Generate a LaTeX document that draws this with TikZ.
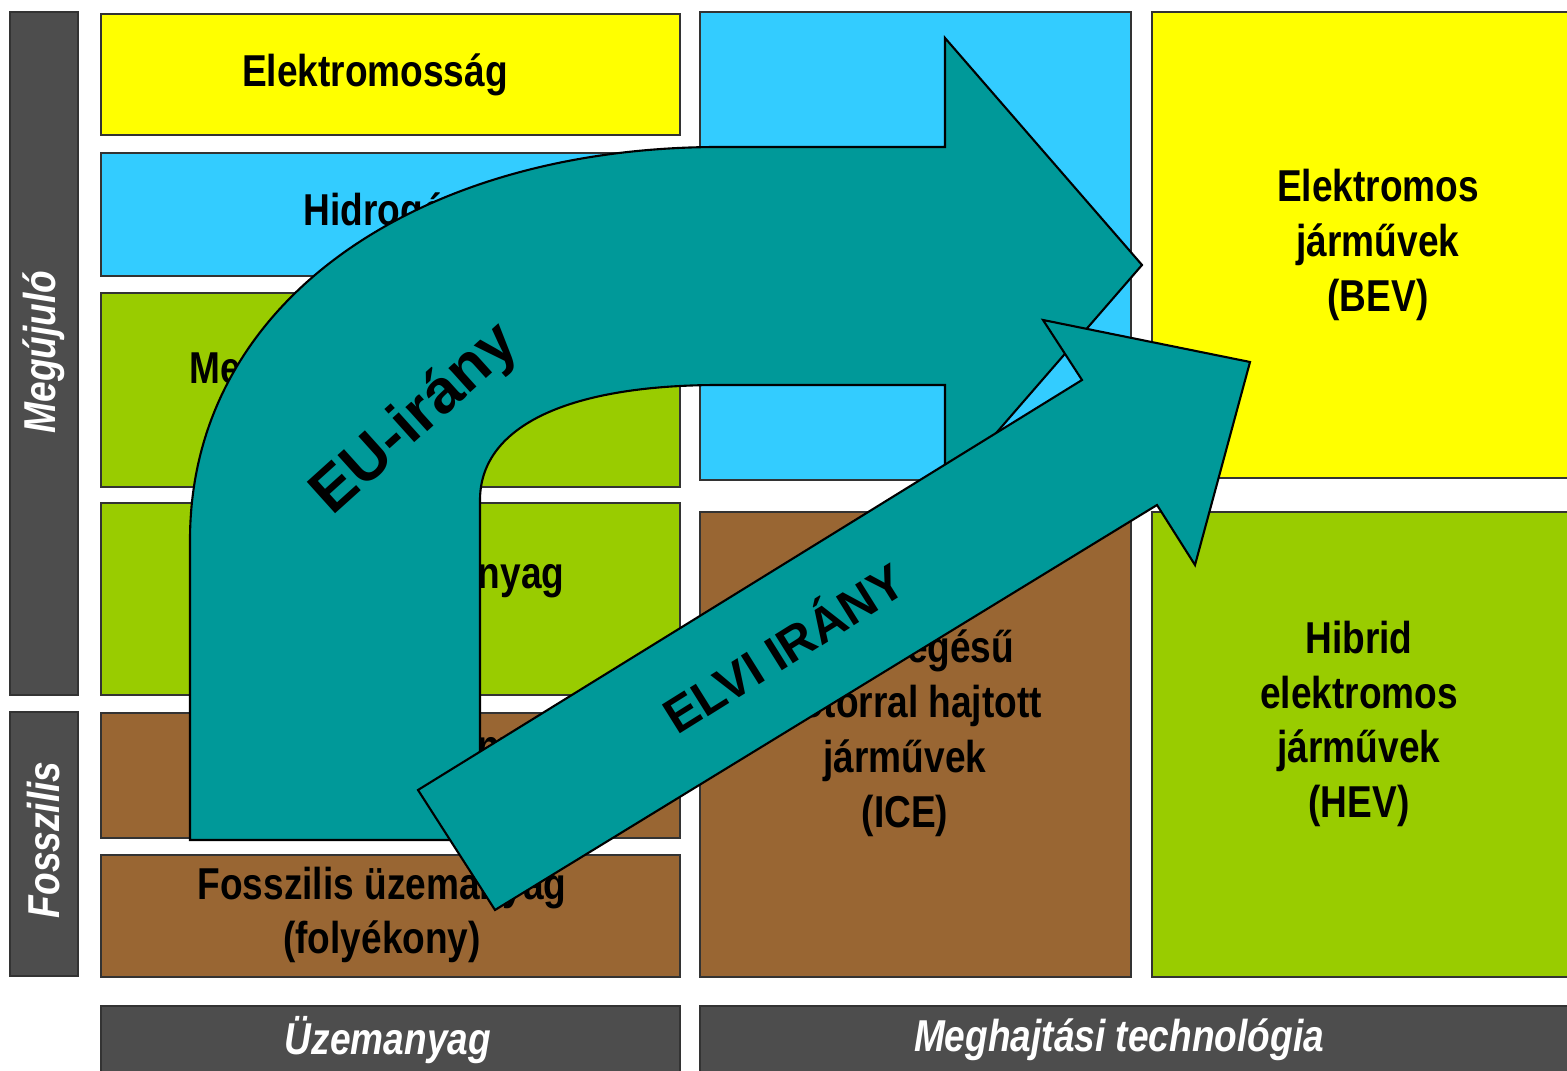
\documentclass[tikz,border=0pt]{standalone}
\usepackage{fontspec}
\usepackage{xcolor}
\usepackage{tikz}
\newfontfamily\narrowsans[FakeStretch=0.83]{Liberation Sans}
\newfontfamily\widesans{Liberation Sans}
\definecolor{fuelyellow}{HTML}{FFFF00}
\definecolor{fuelblue}{HTML}{33CCFF}
\definecolor{fuelgreen}{HTML}{99CC00}
\definecolor{fuelbrown}{HTML}{996633}
\definecolor{bargray}{HTML}{4D4D4D}
\definecolor{arrowteal}{HTML}{009999}

\begin{document}
\begin{tikzpicture}
  [x=0.01cm,y=-0.01cm,every node/.style={align=center,inner sep=0pt,font=\narrowsans\bfseries\fontsize{12.7}{15.6}\selectfont},
   tile/.style={draw=black!80,line width=0.6pt},
   bar/.style={fill=bargray,draw=black!80,line width=0.6pt},
   axis/.style={text=white,font=\narrowsans\bfseries\itshape\fontsize{12.7}{15.6}\selectfont},
   bigarrow/.style={fill=arrowteal,draw=black,line width=0.6pt},
   arrowtext/.style={font=\widesans\bfseries\fontsize{#1}{#1}\selectfont}] % one pixel of the slide = one unit, y grows downwards

    \useasboundingbox (0,0) rectangle (1567,1071);
    \clip (0,0) rectangle (1567,1071);

    % grey bars
    \draw[bar] (10,12) rectangle (78,695);
    \draw[bar] (10,712) rectangle (78,976);
    \draw[bar] (101,1006) rectangle (680,1090);
    \draw[bar] (700,1006) rectangle (1580,1090);

    \node[axis,rotate=90] (s1) at (44,352)   {Megújuló};
    \node[axis,rotate=90] (s2) at (44,840)   {Fosszilis};
    \node[axis] (b1) at (388,1040)  {Üzemanyag};
    \node[axis] (b2) at (1119,1040) {Meghajtási technológia};

    % fuels
    \draw[tile,fill=fuelyellow] (101,14) rectangle (680,135);
    \draw[tile,fill=fuelblue]   (101,153) rectangle (680,276);
    \draw[tile,fill=fuelgreen]  (101,293) rectangle (680,487);
    \draw[tile,fill=fuelgreen]  (101,503) rectangle (680,695);
    \draw[tile,fill=fuelbrown]  (101,713) rectangle (680,838);
    \draw[tile,fill=fuelbrown]  (101,855) rectangle (680,977);

    % technologies
    \draw[tile,fill=fuelblue]   (700,12) rectangle (1131,480);
    \draw[tile,fill=fuelbrown]  (700,512) rectangle (1131,977);
    \draw[tile,fill=fuelyellow] (1152,12) rectangle (1580,478);
    \draw[tile,fill=fuelgreen]  (1152,512) rectangle (1580,977);

    \node (t1) at (375,75)    {Elektromosság};
    \node (t2) at (385,214)   {Hidrogén};
    \node (t3) at (377,372)   {Megújuló üzemanyag};
    \node (t4) at (377,577)   {Megújuló üzemanyag};
    \node (t5) at (380,750)   {Fosszilis üzemanyag};
    \node (t6) at (382,915)   {Fosszilis üzemanyag\\(folyékony)};
    \node (t7) at (915,192)   {Üzemanyagcellás};
    \node (t8) at (905,733)   {Belső égésű\\motorral hajtott\\járművek\\(ICE)};
    \node (t9) at (1378,245)  {Elektromos\\járművek\\(BEV)};
    \node (t10) at (1359,724) {Hibrid\\elektromos\\járművek\\(HEV)};

    % the two arrows
    \draw[bigarrow] (190,840) -- (190,540) .. controls (190,300) and (420,147) .. (720,147)
      -- (945,147) -- (945,38) -- (1142,265) -- (945,492) -- (945,385) -- (720,385)
      .. controls (560,385) and (480,430) .. (480,500) -- (480,840) -- cycle;
    \node[arrowtext=17.5,rotate=42] (eu) at (416,420) {EU-irány};

    \draw[bigarrow] (418,790) -- (1082,380) -- (1043,320) -- (1250,362) -- (1195,565)
      -- (1157,505) -- (495,910) -- cycle;
    \node[arrowtext=14,rotate=32] (elvi) at (782,645) {ELVI IRÁNY};

\end{tikzpicture}
\end{document}
